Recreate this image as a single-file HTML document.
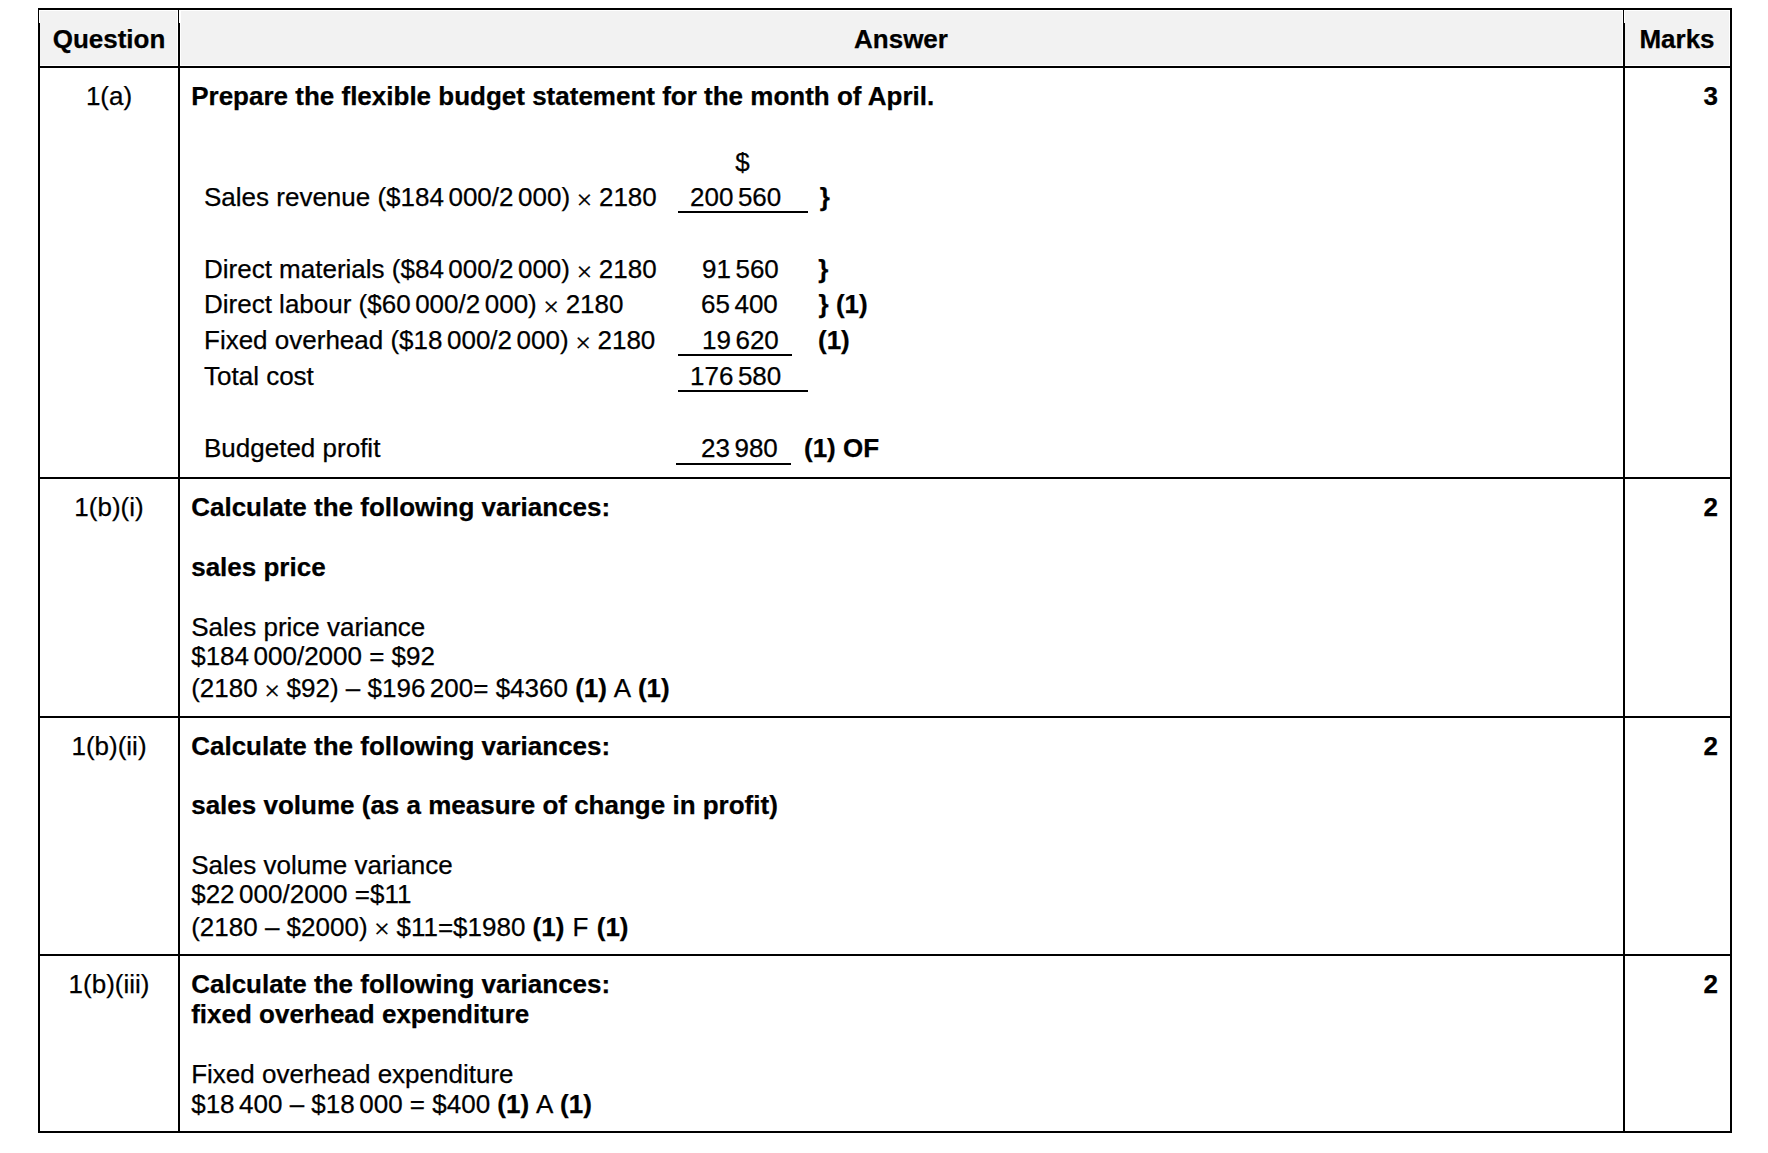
<!DOCTYPE html>
<html><head><meta charset="utf-8"><title>Mark scheme</title>
<style>
html,body{margin:0;padding:0;background:#fff;overflow:hidden}
body{width:1768px;height:1153px;position:relative;overflow:hidden;font-family:"Liberation Sans",Arial,sans-serif;color:#000}
.t{-webkit-text-stroke:0.25px #000;position:absolute;font-size:26px;line-height:30px;white-space:pre}
.b,b{font-weight:bold}
.l{position:absolute;background:#000}
.hd{position:absolute;background:#f2f2f2}
.n{position:absolute;background:#fff}
.x{font-family:"Liberation Serif",serif;font-size:28px;line-height:0;position:relative;top:2.6px;margin:0 -0.7px}
.w{word-spacing:1px}
.s{display:inline-block;width:4.5px}
</style></head><body>
<div class="hd" style="left:40.2px;top:11px;width:136.8px;height:54.2px"></div>
<div class="hd" style="left:180.6px;top:11px;width:1441.4px;height:54.2px"></div>
<div class="hd" style="left:1625.4px;top:11px;width:103.6px;height:54.2px"></div>
<div class="l" style="left:38px;top:8px;width:1694px;height:2px"></div>
<div class="l" style="left:38px;top:66px;width:1694px;height:2px"></div>
<div class="l" style="left:38px;top:477px;width:1694px;height:2px"></div>
<div class="l" style="left:38px;top:716px;width:1694px;height:2px"></div>
<div class="l" style="left:38px;top:954px;width:1694px;height:2px"></div>
<div class="l" style="left:38px;top:1131px;width:1694px;height:2px"></div>
<div class="l" style="left:38px;top:8px;width:2px;height:1125px"></div>
<div class="l" style="left:178px;top:8px;width:2px;height:1125px"></div>
<div class="l" style="left:1623px;top:8px;width:2px;height:1125px"></div>
<div class="l" style="left:1730px;top:8px;width:2px;height:1125px"></div>
<div class="n" style="left:39px;top:10px;width:1.1px;height:13px"></div>
<div class="n" style="left:179px;top:10px;width:1.1px;height:13px"></div>
<div class="n" style="left:1624px;top:10px;width:1.1px;height:13px"></div>
<div class="t b" style="top:24px;left:-191px;width:600px;text-align:center;">Question</div>
<div class="t b" style="top:24px;left:601px;width:600px;text-align:center;">Answer</div>
<div class="t b" style="top:24px;left:1377px;width:600px;text-align:center;">Marks</div>
<div class="t" style="top:81px;left:-191px;width:600px;text-align:center;">1(a)</div>
<div class="t b" style="top:81px;left:191.2px;">Prepare the flexible budget statement for the month of April.</div>
<div class="t b" style="top:81px;right:50px;">3</div>
<div class="t" style="top:147px;left:442.5px;width:600px;text-align:center;">$</div>
<div class="t" style="top:182px;left:204px;">Sales revenue ($184<span class="s"> </span>000/2<span class="s"> </span>000) <span class="x">×</span> 2180</div>
<div class="t" style="top:182px;left:690px;">200<span class="s"> </span>560</div>
<div class="t b" style="top:182px;left:819.8px;">}</div>
<div class="l" style="left:678px;top:211px;width:130px;height:2px"></div>
<div class="t" style="top:254px;left:204px;">Direct materials ($84<span class="s"> </span>000/2<span class="s"> </span>000) <span class="x">×</span> 2180</div>
<div class="t" style="top:254px;left:702px;">91<span class="s"> </span>560</div>
<div class="t b" style="top:254px;left:818.3px;">}</div>
<div class="t" style="top:289px;left:204px;">Direct labour ($60<span class="s"> </span>000/2<span class="s"> </span>000) <span class="x">×</span> 2180</div>
<div class="t" style="top:289px;left:701px;">65<span class="s"> </span>400</div>
<div class="t b" style="top:289px;left:818.6px;">} (1)</div>
<div class="t" style="top:325px;left:204px;">Fixed overhead ($18<span class="s"> </span>000/2<span class="s"> </span>000) <span class="x">×</span> 2180</div>
<div class="t" style="top:325px;left:702px;">19<span class="s"> </span>620</div>
<div class="t b" style="top:325px;left:818px;">(1)</div>
<div class="l" style="left:678px;top:354px;width:114px;height:2px"></div>
<div class="t" style="top:361px;left:204px;">Total cost</div>
<div class="t" style="top:361px;left:690px;">176<span class="s"> </span>580</div>
<div class="l" style="left:678px;top:390px;width:130px;height:2px"></div>
<div class="t" style="top:433px;left:204px;">Budgeted profit</div>
<div class="t" style="top:433px;left:701px;">23<span class="s"> </span>980</div>
<div class="t b" style="top:433px;left:804px;">(1) OF</div>
<div class="l" style="left:676px;top:463px;width:115px;height:2px"></div>
<div class="t" style="top:492px;left:-191px;width:600px;text-align:center;">1(b)(i)</div>
<div class="t b" style="top:492px;left:191.2px;">Calculate the following variances:</div>
<div class="t b" style="top:492px;right:50px;">2</div>
<div class="t b" style="top:552px;left:191.2px;">sales price</div>
<div class="t" style="top:612px;left:191.2px;">Sales price variance</div>
<div class="t" style="top:641px;left:191.2px;">$184<span class="s"> </span>000/2000 = $92</div>
<div class="t" style="top:673px;left:191.2px;">(2180 <span class="x">×</span> $92) – $196<span class="s"> </span>200= $4360 <b>(1)</b><span class="w"> A </span><b>(1)</b></div>
<div class="t" style="top:731px;left:-191px;width:600px;text-align:center;">1(b)(ii)</div>
<div class="t b" style="top:731px;left:191.2px;">Calculate the following variances:</div>
<div class="t b" style="top:731px;right:50px;">2</div>
<div class="t b" style="top:790px;left:191.2px;">sales volume (as a measure of change in profit)</div>
<div class="t" style="top:850px;left:191.2px;">Sales volume variance</div>
<div class="t" style="top:879.4px;left:191.2px;">$22<span class="s"> </span>000/2000 =$11</div>
<div class="t" style="top:911.6px;left:191.2px;">(2180 – $2000) <span class="x">×</span> $11=$1980 <b>(1)</b><span class="w"> F </span><b>(1)</b></div>
<div class="t" style="top:969px;left:-191px;width:600px;text-align:center;">1(b)(iii)</div>
<div class="t b" style="top:969px;left:191.2px;">Calculate the following variances:</div>
<div class="t b" style="top:969px;right:50px;">2</div>
<div class="t b" style="top:999px;left:191.2px;">fixed overhead expenditure</div>
<div class="t" style="top:1059px;left:191.2px;">Fixed overhead expenditure</div>
<div class="t" style="top:1089px;left:191.2px;">$18<span class="s"> </span>400 – $18<span class="s"> </span>000 = $400 <b>(1)</b><span class="w"> A </span><b>(1)</b></div>
</body></html>
